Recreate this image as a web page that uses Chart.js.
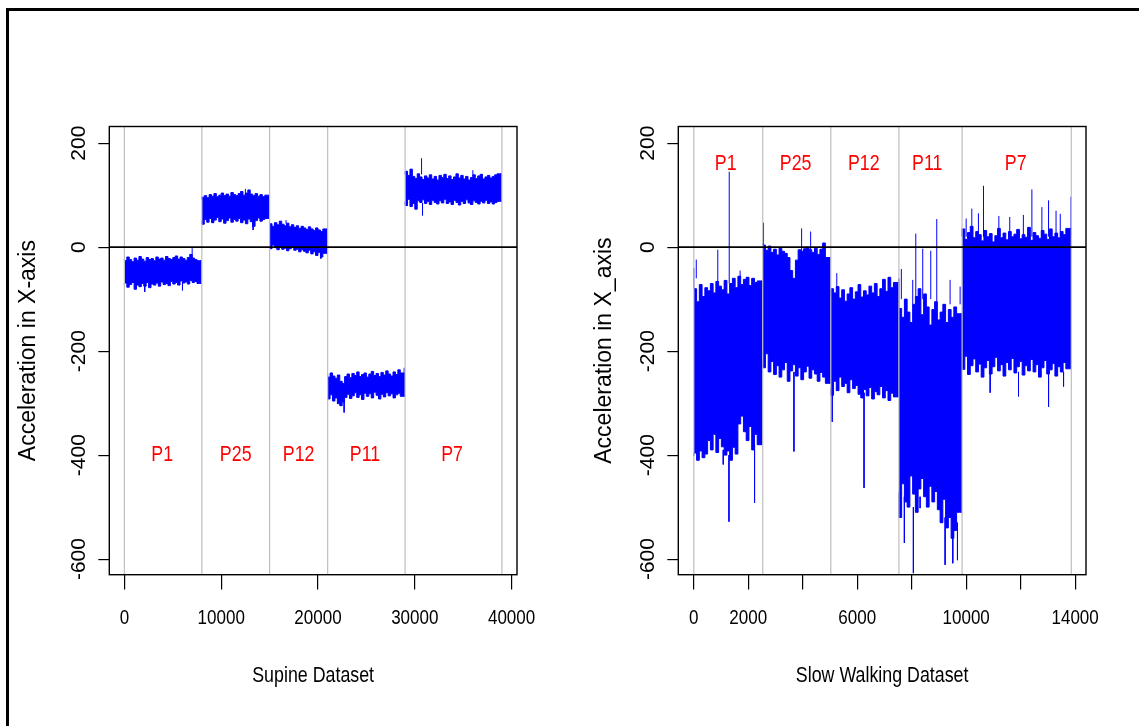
<!DOCTYPE html>
<html>
<head>
<meta charset="utf-8">
<script src="https://cdn.jsdelivr.net/npm/chart.js@4.4.1/dist/chart.umd.min.js"></script>
<style>
html,body{margin:0;padding:0;background:#fff;}
body{width:1139px;height:726px;position:relative;overflow:hidden;}
#frame{position:absolute;left:6px;top:8px;width:1140px;height:730px;border-left:3px solid #000;border-top:3px solid #000;}
.panel{position:absolute;top:0;width:550px;height:726px;}
</style>
</head>
<body>
<div id="frame"></div>
<div class="panel" style="left:10px"><canvas id="supine" width="550" height="726"></canvas></div>
<div class="panel" style="left:579px"><canvas id="walk" width="550" height="726"></canvas></div>
<script>
/* ===== Data ===== */
const segNames = ['P1', 'P25', 'P12', 'P11', 'P7'];
const yTicks = [-600, -400, -200, 0, 200];
const yTickLabels = ['-600', '-400', '-200', '0', '200'];

// Supine: signal envelope per 250-sample bin, one sub-array per subject
const supineBounds = [0, 8000, 15000, 21000, 29000, 39000];
const supineHi = [
  [-22,-26,-19,-24,-28,-21,-25,-18,-23,-27,-20,-24,-22,-26,-19,-23,-21,-25,-18,-22,-24,-20,-17,-23,-19,-22,-25,-20,-14,-21,-24,-26],
  [92,96,99,95,101,98,103,97,100,104,99,102,98,105,101,99,103,107,100,104,110,102,99,103,98,101,97,100],
  [42,45,40,47,43,50,44,41,46,39,43,38,41,36,40,37,34,39,35,32,37,33,30,35],
  [-245,-250,-242,-248,-252,-246,-258,-262,-249,-244,-251,-243,-247,-240,-249,-245,-242,-250,-244,-239,-247,-243,-249,-241,-246,-238,-244,-248,-240,-245,-236,-242],
  [140,146,138,150,136,132,141,135,130,137,133,139,131,136,129,138,134,140,132,137,130,135,141,133,138,131,136,129,134,139,132,137,140,131,135,138,133,136,139,141]
];
const supineLo = [
  [-74,-69,-77,-72,-68,-81,-73,-76,-70,-75,-68,-78,-71,-73,-69,-75,-67,-72,-70,-74,-66,-71,-68,-73,-65,-69,-67,-71,-64,-68,-66,-70],
  [50,44,53,48,55,47,52,57,49,54,46,51,56,48,53,50,55,47,52,45,54,49,40,51,56,50,53,55],
  [2,-3,4,-1,-5,1,-4,-2,-7,-3,0,-6,-4,-9,-5,-8,-11,-6,-13,-9,-16,-10,-19,-12],
  [-288,-292,-284,-296,-290,-301,-305,-298,-289,-283,-291,-286,-280,-289,-284,-293,-281,-287,-282,-290,-279,-285,-292,-283,-288,-280,-286,-282,-290,-284,-281,-287],
  [88,80,92,78,84,73,89,86,91,84,88,82,90,86,83,89,85,92,84,87,82,90,86,81,88,84,91,85,82,89,86,83,88,85,90,84,87,83,86,88]
];
// single-sample spikes sticking out of the band
const supineSpikeX    = [2100, 6000, 7000, 12500, 13300, 16700, 20300, 22700, 28900, 30700, 30800, 36000];
const supineSpikeFrom = [-72, -68, -22, 100, 50, 45, -8, -295, -244, 140, 85, 136];
const supineSpikeTo   = [-86, -83, -2, 112, 33, 52, -22, -318, -232, 171, 61, 148];
const supineXTicks = [0, 10000, 20000, 30000, 40000];
const supineXTickLabels = ['0', '10000', '20000', '30000', '40000'];
const supineLabelX = [3900, 11500, 18000, 24850, 33850];
const supineLabelY = -400;

// Slow walking: envelope per ~100-sample bin
const walkBounds = [0, 2530, 5030, 7530, 9850, 13860];
const walkHi = [
  [-40,-80,-105,-72,-95,-78,-84,-70,-88,-66,-75,-82,-64,-90,-70,-60,-78,-56,-72,-62,-58,-74,-60,-68,-65],
  [8,4,-6,2,-10,-4,-15,-2,-8,-12,-20,-45,-60,-25,-5,-8,-3,0,-5,-10,-2,-14,-4,8,-20],
  [-95,-80,-88,-76,-98,-82,-104,-90,-78,-100,-86,-72,-96,-84,-92,-75,-88,-70,-95,-80,-62,-85,-58,-78,-68],
  [-60,-118,-135,-100,-125,-145,-110,-95,-80,-130,-90,-115,-150,-120,-105,-140,-125,-110,-145,-120,-135,-115,-128],
  [20,35,15,28,40,18,30,24,12,32,20,26,10,22,36,18,27,14,30,20,25,34,16,24,19,38,13,28,22,17,32,25,15,35,20,27,18,30,24,36]
];
const walkLo = [
  [-402,-396,-410,-392,-405,-398,-372,-390,-360,-395,-368,-384,-400,-392,-410,-385,-398,-340,-325,-355,-372,-345,-390,-360,-380],
  [-215,-232,-205,-240,-220,-245,-228,-250,-236,-222,-258,-238,-226,-248,-232,-255,-240,-229,-252,-236,-244,-258,-241,-250,-262],
  [-270,-285,-258,-276,-250,-268,-262,-280,-255,-272,-266,-283,-290,-274,-286,-270,-292,-278,-284,-268,-290,-276,-295,-281,-288],
  [-470,-520,-455,-490,-500,-440,-475,-510,-465,-445,-480,-500,-460,-490,-470,-505,-530,-485,-540,-520,-560,-545,-510],
  [-220,-235,-210,-245,-228,-215,-240,-225,-250,-232,-218,-244,-230,-212,-238,-226,-248,-222,-236,-214,-242,-230,-220,-246,-228,-238,-216,-240,-226,-250,-232,-218,-244,-236,-224,-248,-230,-240,-222,-234]
];
const walkSpikeX    = [90, 880, 1300, 1700, 1080, 1290, 2230, 2560, 3958, 4289, 3676, 5250, 5080, 6250, 7620, 8038, 8150, 8405, 8700, 8920, 9410, 9778, 7731, 8062, 8308, 9227, 9509, 9680, 10000, 10207, 10450, 10636, 11200, 11600, 12100, 12413, 12780, 13025, 13300, 13455, 13848, 10881, 11922, 13025, 13576];
const walkSpikeFrom = [-60, -70, -70, -60, -390, -400, -380, 0, -10, -5, -240, -80, -270, -280, -100, -110, -100, -100, -100, -110, -110, -110, -480, -500, -480, -520, -520, -530, 20, 20, 20, 20, 20, 20, 20, 20, 20, 20, 20, 20, 20, -240, -240, -240, -240];
const walkSpikeTo   = [-24, -5, 145, -45, -418, -528, -492, 47, 36, 30, -393, -50, -336, -463, -42, -63, 26, -3, -7, 54, -63, -76, -569, -627, -502, -611, -608, -602, 55, 74, 65, 118, 60, 58, 62, 111, 77, 90, 70, 64, 97, -280, -287, -307, -268];
const walkXTicks = [0, 2000, 4000, 6000, 8000, 10000, 12000, 14000];
const walkXTickLabels = ['0', '2000', '', '6000', '', '10000', '', '14000'];
const walkLabelX = [1170, 3740, 6240, 8570, 11820];
const walkLabelY = 160;

/* ===== Helpers ===== */
const FONT = '"Liberation Sans", Arial, sans-serif';
const SQUISH = 0.81;   // the source figure's upright text is narrower than Arial
const BLUE = '#0000ff';

// one stepped edge per subject; a closing point carries the last bin to the segment end
function edge(b0, b1, vals){
  const w = (b1 - b0) / vals.length;
  const pts = vals.map((v, i) => ({x: b0 + i * w, y: v}));
  pts.push({x: b1, y: vals[vals.length - 1]});
  return pts;
}
function bandDatasets(bounds, hi, lo){
  const sets = [];
  hi.forEach((seg, s) => {
    const common = {type: 'line', stepped: 'after', borderColor: BLUE, borderWidth: 1, pointRadius: 0, backgroundColor: BLUE};
    sets.push({...common, data: edge(bounds[s], bounds[s+1], seg), fill: '+1'});
    sets.push({...common, data: edge(bounds[s], bounds[s+1], lo[s]), fill: false});
  });
  return sets;
}
function spikePoints(xs, from, to){
  const pts = [];
  xs.forEach((x, i) => { pts.push({x, y: from[i]}, {x, y: to[i]}, {x, y: null}); });
  return pts;
}
// draw upright text narrower, around its own anchor
function narrowFill(ctx, fn){
  const ft = ctx.fillText;
  ctx.fillText = function(t, x, y){ this.save(); this.translate(x, y); this.scale(SQUISH, 1); ft.call(this, t, 0, 0); this.restore(); };
  try { fn(); } finally { ctx.fillText = ft; }
}
const narrowX = {
  id: 'narrowX',
  beforeDraw(chart){
    const s = chart.scales.x;
    if (s._narrowed) return;
    const dl = s.drawLabels, dt = s.drawTitle;
    s.drawLabels = function(a){ narrowFill(this.ctx, () => dl.call(this, a)); };
    s.drawTitle = function(a){ narrowFill(this.ctx, () => dt.call(this, a)); };
    s._narrowed = true;
  }
};

function makePanel(id, o){
  // segment dividers, zero line, subject names, plot box
  const overlay = {
    id: 'overlay',
    afterDatasetsDraw(chart){
      const {ctx, chartArea: a, scales: {x, y}} = chart;
      ctx.save();
      ctx.beginPath(); ctx.rect(a.left, a.top, a.width, a.height); ctx.clip();
      ctx.strokeStyle = '#bebebe'; ctx.lineWidth = 1.2;
      o.bounds.forEach(b => {
        const px = x.getPixelForValue(b);
        ctx.beginPath(); ctx.moveTo(px, a.top); ctx.lineTo(px, a.bottom); ctx.stroke();
      });
      ctx.strokeStyle = '#000'; ctx.lineWidth = 1.6;
      const py = y.getPixelForValue(0);
      ctx.beginPath(); ctx.moveTo(a.left, py); ctx.lineTo(a.right, py); ctx.stroke();
      ctx.restore();

      ctx.save();
      ctx.fillStyle = '#ff0000'; ctx.font = '22px ' + FONT;
      ctx.textAlign = 'center'; ctx.textBaseline = 'middle';
      narrowFill(ctx, () => segNames.forEach((n, i) =>
        ctx.fillText(n, x.getPixelForValue(o.labelX[i]), y.getPixelForValue(o.labelY))));
      ctx.strokeStyle = '#000'; ctx.lineWidth = 1.4;
      ctx.strokeRect(a.left, a.top, a.width, a.height);
      ctx.restore();
    }
  };

  return new Chart(document.getElementById(id), {
    type: 'line',
    data: {
      datasets: [
        ...bandDatasets(o.bounds, o.hi, o.lo),
        {type: 'line', data: spikePoints(o.spX, o.spFrom, o.spTo), borderColor: BLUE, borderWidth: 1,
         pointRadius: 0, spanGaps: false, fill: false}
      ]
    },
    options: {
      responsive: false, animation: false, devicePixelRatio: 1,
      layout: {padding: {top: 126.5, right: 43, bottom: 0, left: 0}},
      plugins: {legend: {display: false}, tooltip: {enabled: false}},
      scales: {
        x: {
          type: 'linear', min: o.xMin, max: o.xMax, offset: false,
          afterBuildTicks: s => { s.ticks = o.xTicks.map(v => ({value: v})); },
          afterFit: s => { s.height = 151.3; },
          ticks: {autoSkip: false, maxRotation: 0, minRotation: 0, padding: 16.5, color: '#000',
                  font: {family: FONT, size: 21}, callback: (v, i) => o.xTickLabels[i]},
          grid: {display: true, offset: false, drawOnChartArea: false, drawTicks: true, tickLength: 14.7, color: '#000', lineWidth: 1.2},
          border: {display: false},
          title: {display: true, text: o.xTitle, color: '#000', font: {family: FONT, size: 22}, padding: {top: 0, bottom: 37}}
        },
        y: {
          min: -630, max: 232,
          afterBuildTicks: s => { s.ticks = yTicks.map(v => ({value: v})); },
          afterFit: s => { s.width = 99.3; },
          ticks: {minRotation: 90, maxRotation: 90, crossAlign: 'center', padding: -2, color: '#000',
                  font: {family: FONT, size: 21}, callback: (v, i) => yTickLabels[i]},
          grid: {display: true, offset: false, drawOnChartArea: false, drawTicks: true, tickLength: 11, color: '#000', lineWidth: 1.2},
          border: {display: false},
          title: {display: true, text: o.yTitle, color: '#000', font: {family: FONT, size: 23}, padding: {top: o.yTitlePad, bottom: 0}}
        }
      }
    },
    plugins: [narrowX, overlay]
  });
}

makePanel('supine', {
  bounds: supineBounds, hi: supineHi, lo: supineLo,
  spX: supineSpikeX, spFrom: supineSpikeFrom, spTo: supineSpikeTo,
  xMin: -1560, xMax: 40560, xTicks: supineXTicks, xTickLabels: supineXTickLabels,
  labelX: supineLabelX, labelY: supineLabelY,
  xTitle: 'Supine Dataset', yTitle: 'Acceleration in X-axis', yTitlePad: 5
});
makePanel('walk', {
  bounds: walkBounds, hi: walkHi, lo: walkLo,
  spX: walkSpikeX, spFrom: walkSpikeFrom, spTo: walkSpikeTo,
  xMin: -570, xMax: 14400, xTicks: walkXTicks, xTickLabels: walkXTickLabels,
  labelX: walkLabelX, labelY: walkLabelY,
  xTitle: 'Slow Walking Dataset', yTitle: 'Acceleration in X_axis', yTitlePad: 12.3
});
</script>
</body>
</html>
